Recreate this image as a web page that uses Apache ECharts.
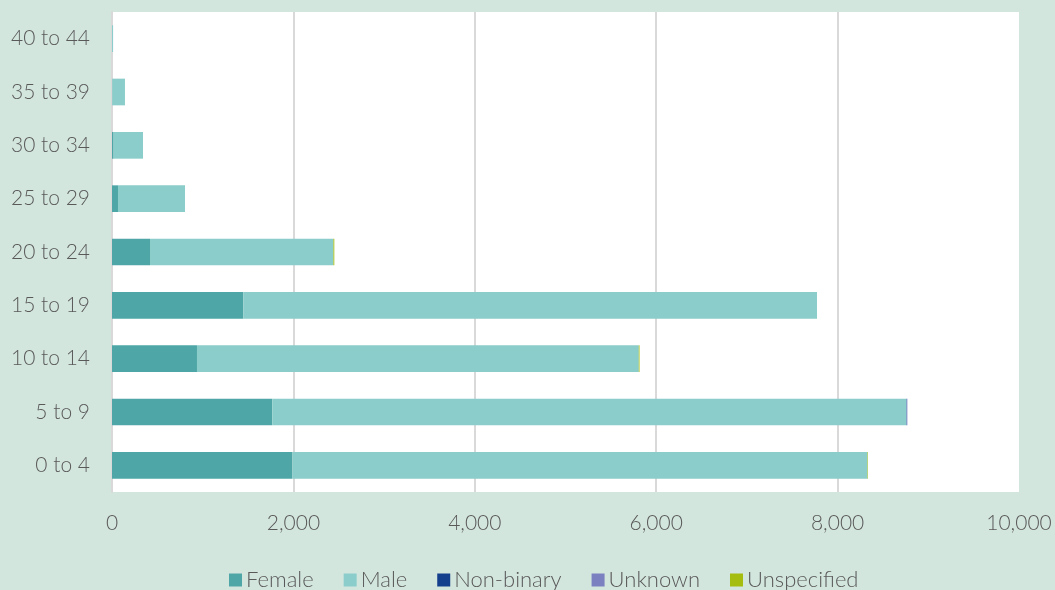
<!DOCTYPE html>
<html>
<head>
<meta charset="utf-8">
<script src="https://cdn.jsdelivr.net/npm/echarts@6/dist/echarts.min.js"></script>
<style>
  html, body { margin: 0; padding: 0; background: #d3e6de; }
  #ageChart { width: 1055px; height: 590px; }
</style>
</head>
<body>
<div id="ageChart"></div>
<script>
// age groups, bottom to top
var ageGroups = ['0 to 4', '5 to 9', '10 to 14', '15 to 19', '20 to 24', '25 to 29', '30 to 34', '35 to 39', '40 to 44'];
var female      = [1990, 1767, 937, 1448, 419, 66, 18, 2, 0];
var male        = [6340, 6992, 4871, 6325, 2022, 739, 324, 141, 12];
var nonBinary   = [0, 4, 0, 0, 0, 0, 0, 0, 0];
var unknown     = [0, 6, 0, 0, 0, 0, 0, 0, 0];
var unspecified = [5, 0, 8, 0, 10, 0, 0, 0, 0];

var seriesNames  = ['Female', 'Male', 'Non-binary', 'Unknown', 'Unspecified'];
var seriesData   = [female, male, nonBinary, unknown, unspecified];
var seriesColors = ['#4fa6a6', '#8bcdca', '#143f8c', '#7a80c0', '#a5bd0e'];

var txtFont = 'Lato, "Open Sans", sans-serif';
var txtColor = '#595959';

var myChart = echarts.init(document.querySelector('#ageChart'));

var series = [];
for (var i = 0; i < seriesNames.length; i++) {
  series.push({
    name: seriesNames[i],
    type: 'bar',
    stack: 'total',
    barWidth: '50%',
    itemStyle: { color: seriesColors[i] },
    emphasis: { disabled: true },
    data: seriesData[i]
  });
}

var option = {
  animation: false,
  backgroundColor: '#d3e6de',
  textStyle: { fontFamily: txtFont },
  grid: {
    left: 112,
    right: 36,
    top: 12,
    bottom: 98,
    show: true,
    backgroundColor: '#ffffff',
    borderWidth: 0
  },
  legend: {
    top: 564,
    left: 224,
    itemWidth: 13,
    itemHeight: 13,
    itemGap: 30,
    icon: 'rect',
    textStyle: { color: txtColor, fontSize: 22, fontFamily: txtFont, fontWeight: 300, padding: [0, 0, 0, -1] },
    data: seriesNames
  },
  xAxis: {
    type: 'value',
    min: 0,
    max: 10000,
    interval: 2000,
    axisLine: { show: false },
    axisTick: { show: false },
    splitLine: { showMaxLine: false, lineStyle: { color: '#d9d9d9', width: 2 } },
    axisLabel: {
      color: txtColor,
      fontSize: 21,
      fontWeight: 300,
      margin: 21,
      formatter: function (v) { return v.toLocaleString('en-US'); }
    }
  },
  yAxis: {
    type: 'category',
    data: ageGroups,
    axisLine: { show: true, lineStyle: { color: '#d9d9d9', width: 2 } },
    axisTick: { show: false },
    axisLabel: { color: txtColor, fontSize: 21, fontWeight: 300, margin: 22 }
  },
  series: series
};

myChart.setOption(option);
window.addEventListener('resize', function () {
  myChart.resize();
});
</script>
</body>
</html>
